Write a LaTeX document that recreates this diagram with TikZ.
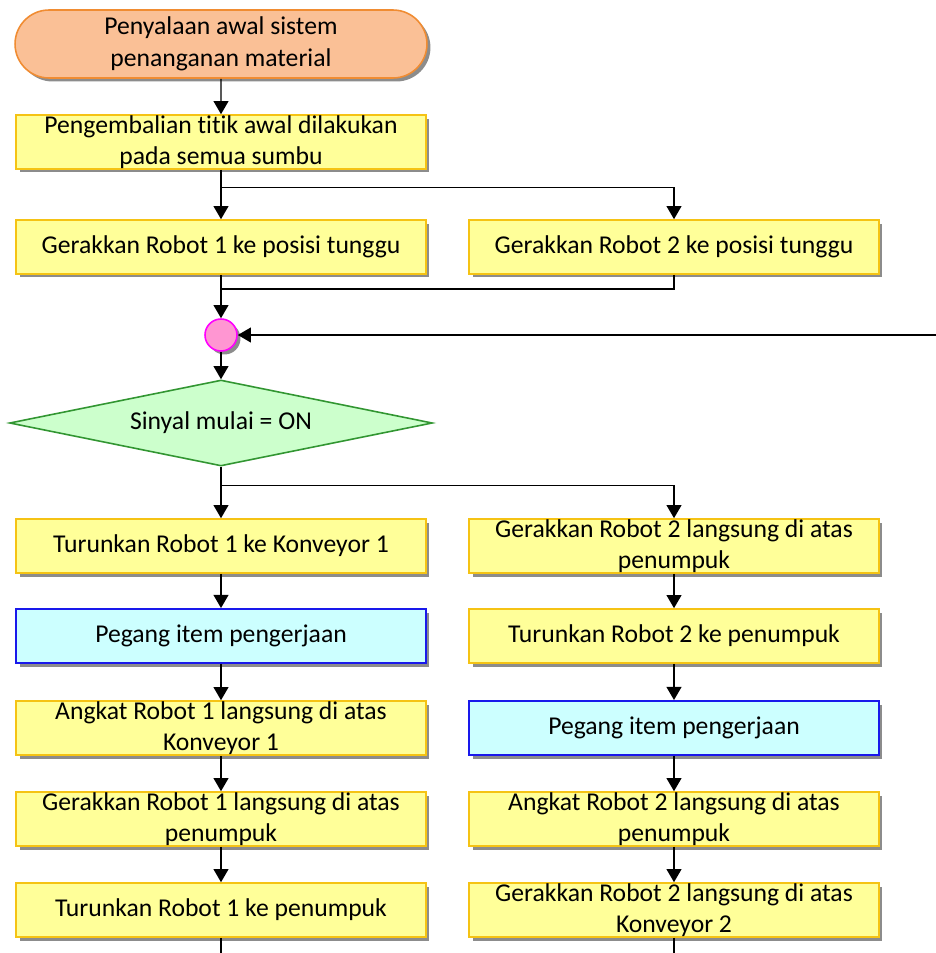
\documentclass[tikz,border=0pt]{standalone}
\usepackage{fontspec}
\setmainfont{Carlito}[RawFeature={-liga;-clig;-calt;-dlig}]
\usetikzlibrary{arrows.meta,positioning,calc,shapes.geometric,shapes.misc,shadows}

\definecolor{procfill}{RGB}{255,255,153}
\definecolor{procdraw}{RGB}{245,195,20}
\definecolor{holdfill}{RGB}{204,255,255}
\definecolor{holddraw}{RGB}{25,25,235}
\definecolor{termfill}{RGB}{250,192,150}
\definecolor{termdraw}{RGB}{240,140,50}
\definecolor{condfill}{RGB}{204,255,204}
\definecolor{conddraw}{RGB}{50,150,50}
\definecolor{juncfill}{RGB}{255,150,210}
\definecolor{juncdraw}{RGB}{255,0,255}

\begin{document}
\begin{tikzpicture}[x=0.02cm, y=-0.02cm,
  shd/.style={drop shadow={shadow xshift=0.07cm, shadow yshift=-0.07cm, fill=black!45, opacity=1}},
  proc/.style={draw=procdraw, fill=procfill, line width=0.9pt, rectangle, minimum width=8.2cm,
               minimum height=1.08cm, inner sep=0pt, align=center,
               font=\fontsize{14.6}{18}\selectfont, shd},
  hold/.style={proc, draw=holddraw, fill=holdfill, line width=1.1pt},
  term/.style={proc, rounded rectangle, draw=termdraw, fill=termfill, minimum width=8.24cm,
               minimum height=1.36cm},
  cond/.style={diamond, draw=conddraw, fill=condfill, line width=0.9pt, minimum width=8.46cm,
               minimum height=1.72cm, shape aspect=4.9, inner sep=0pt,
               font=\fontsize{14.6}{18}\selectfont},
  junc/.style={circle, draw=juncdraw, fill=juncfill, line width=0.9pt, minimum size=0.64cm,
               inner sep=0pt, shd},
  lnk/.style={-{Triangle[length=7.5pt, width=8.5pt]}, line width=0.8pt},
  ln/.style={line width=0.8pt},
]
\useasboundingbox (0,0) rectangle (936,953);
\node[term] (start) at (221,44) {Penyalaan awal sistem\\penanganan material};
\node[proc] (home) at (221,142) {Pengembalian titik awal dilakukan\\pada semua sumbu};
\node[proc] (r1wait) at (221,247) {Gerakkan Robot 1 ke posisi tunggu};
\node[proc] (r2wait) at (674,247) {Gerakkan Robot 2 ke posisi tunggu};
\node[junc] (join) at (221,335) {};
\node[cond] (sig) at (221,423) {Sinyal mulai = ON};

\node[proc] (l1) at (221,546) {Turunkan Robot 1 ke Konveyor 1};
\node[hold] (l2) at (221,636) {Pegang item pengerjaan};
\node[proc] (l3) at (221,728) {Angkat Robot 1 langsung di atas\\Konveyor 1};
\node[proc] (l4) at (221,819) {Gerakkan Robot 1 langsung di atas\\penumpuk};
\node[proc] (l5) at (221,910) {Turunkan Robot 1 ke penumpuk};

\node[proc] (r1) at (674,546) {Gerakkan Robot 2 langsung di atas\\penumpuk};
\node[proc] (r2) at (674,636) {Turunkan Robot 2 ke penumpuk};
\node[hold] (r3) at (674,728) {Pegang item pengerjaan};
\node[proc] (r4) at (674,819) {Angkat Robot 2 langsung di atas\\penumpuk};
\node[proc] (r5) at (674,910) {Gerakkan Robot 2 langsung di atas\\Konveyor 2};

\coordinate (fork1) at ($(home.south)!0.36!(r1wait.north)$);
\coordinate (merge1) at ($(r1wait.south)!0.33!(join.north)$);
\coordinate (fork2) at ($(sig.south)!0.36!(l1.north)$);
\coordinate (back) at (936,335);
\coordinate (lend) at (221,953);
\coordinate (rend) at (674,953);

\draw[lnk] (start) -- (home);
\draw[lnk] (home) -- (r1wait);
\draw[lnk] (fork1) -| (r2wait);
\draw[lnk] (r1wait) -- (join);
\draw[ln] (r2wait.south) |- (merge1);
\draw[lnk] (back) -- (join);
\draw[lnk] (join) -- (sig);
\draw[lnk] (sig) -- (l1);
\draw[lnk] (fork2) -| (r1);
\foreach \a/\b in {l1/l2,l2/l3,l3/l4,l4/l5,r1/r2,r2/r3,r3/r4,r4/r5}
  \draw[lnk] (\a) -- (\b);
\draw[ln] (l5) -- (lend);
\draw[ln] (r5) -- (rend);
\end{tikzpicture}
\end{document}
